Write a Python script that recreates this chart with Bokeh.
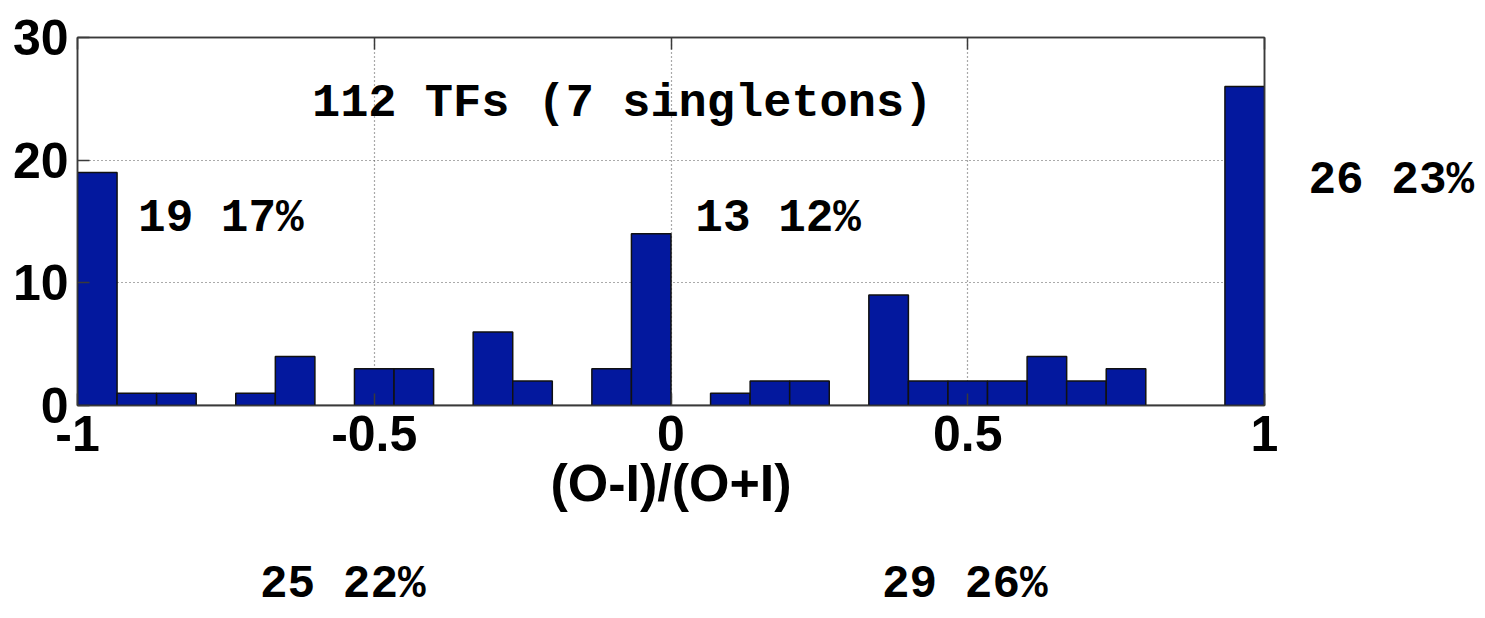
import numpy as np
from bokeh.plotting import figure
from bokeh.models import (Range1d, FixedTicker, LinearAxis, Label, CustomJSTickFormatter,
                          ColumnDataSource)
from bokeh.embed import file_html
from bokeh.resources import INLINE

# ---- data ----
counts = [19, 1, 1, 0, 1, 4, 0, 3, 3, 0, 6, 2, 0, 3, 14,
          0, 1, 2, 2, 0, 9, 2, 2, 2, 4, 2, 3, 0, 0, 26]
x_min, x_max = -1.0, 1.0
x_ticks = [-1, -0.5, 0, 0.5, 1]
y_ticks = [0, 10, 20, 30]
x_label = "(O-I)/(O+I)"
title_text = "112 TFs (7 singletons)"
title_x, title_y = -0.605, 24.6
# texts inside the plot area
inner_texts = ["19 17%", "13 12%"]
inner_x = [-0.898, 0.041]
inner_y = [15.2, 15.2]
# text right of the plot (at a y value)
right_texts = ["26 23%"]
right_y = [18.3]
# texts below the x label (centred at x values)
below_texts = ["25 22%", "29 26%"]
below_x = [-0.553, 0.495]

n = len(counts)
edges = np.linspace(x_min, x_max, n + 1)
src = ColumnDataSource(dict(left=edges[:-1], right=edges[1:],
                            top=counts, bottom=[0] * n))

SANS = "Liberation Sans"
MONO = "Liberation Mono"
BAR = "#03189E"
AX = "#3a3a3a"

W, H = 1477, 618
p = figure(width=W, height=H, output_backend="svg", toolbar_location=None,
           x_range=Range1d(x_min, x_max), y_range=Range1d(0, 30),
           min_border_left=77, min_border_top=37, min_border_right=W - 1268,
           min_border_bottom=H - 405)
p.background_fill_color = "white"
p.border_fill_color = "white"
p.outline_line_color = AX
p.outline_line_width = 1.5

p.quad(left="left", right="right", top="top", bottom="bottom", source=src,
       fill_color=BAR, line_color="#111111", line_width=1.5)

for ax in (p.xaxis[0], p.yaxis[0]):
    ax.axis_line_color = AX
    ax.axis_line_width = 1.5
    ax.major_tick_line_color = AX
    ax.major_tick_line_width = 1.5
    ax.major_tick_in = 12
    ax.major_tick_out = 0
    ax.minor_tick_line_color = None
    ax.major_label_text_font = SANS
    ax.major_label_text_font_style = "bold"
    ax.major_label_text_font_size = "50px"
    ax.major_label_text_color = "black"

p.xaxis[0].ticker = FixedTicker(ticks=x_ticks)
p.xaxis[0].formatter = CustomJSTickFormatter(code="return tick.toString();")
p.xaxis[0].major_label_standoff = 10
p.xaxis[0].axis_label = x_label
p.xaxis[0].axis_label_text_font = SANS
p.xaxis[0].axis_label_text_font_style = "bold"
p.xaxis[0].axis_label_text_font_size = "52px"
p.xaxis[0].axis_label_text_color = "black"
p.xaxis[0].axis_label_standoff = 0

p.yaxis[0].ticker = FixedTicker(ticks=y_ticks)
p.yaxis[0].major_label_standoff = 9

# mirrored tick marks on top (no labels)
blank = CustomJSTickFormatter(code="return '';")
top_ax = LinearAxis(ticker=FixedTicker(ticks=x_ticks), formatter=blank,
                    axis_line_color=AX, axis_line_width=1.5, major_tick_line_color=AX,
                    major_tick_line_width=1.5, major_tick_in=12, major_tick_out=0,
                    minor_tick_line_color=None, minor_tick_out=0, major_label_standoff=0)
p.add_layout(top_ax, "above")

# group annotations outside the plot area, drawn as axis labels
right_lab = LinearAxis(ticker=FixedTicker(ticks=right_y),
                       formatter=CustomJSTickFormatter(args=dict(labels=right_texts),
                                                       code="return labels[index];"),
                       axis_line_color=AX, axis_line_width=1.5,
                       major_tick_line_color=None, major_tick_in=0, major_tick_out=0,
                       minor_tick_line_color=None, minor_tick_in=0, minor_tick_out=0,
                       major_label_standoff=44,
                       major_label_text_font=MONO, major_label_text_font_style="bold",
                       major_label_text_font_size="46px", major_label_text_color="black")
p.add_layout(right_lab, "right")
below_lab = LinearAxis(ticker=FixedTicker(ticks=below_x),
                       formatter=CustomJSTickFormatter(args=dict(labels=below_texts),
                                                       code="return labels[index];"),
                       axis_line_color=None, major_tick_line_color=None,
                       major_tick_in=0, major_tick_out=0,
                       minor_tick_line_color=None, minor_tick_in=0, minor_tick_out=0,
                       major_label_standoff=44,
                       major_label_text_font=MONO, major_label_text_font_style="bold",
                       major_label_text_font_size="46px", major_label_text_color="black")
p.add_layout(below_lab, "below")

p.xgrid.ticker = FixedTicker(ticks=x_ticks)
p.ygrid.ticker = FixedTicker(ticks=y_ticks)
for g in (p.xgrid[0], p.ygrid[0]):
    g.grid_line_color = "#555555"
    g.grid_line_dash = "1 3"
    g.grid_line_width = 1.2

p.add_layout(Label(x=title_x, y=title_y, text=title_text, text_font=MONO,
                   text_font_style="bold", text_font_size="47px",
                   text_baseline="middle", text_align="left", text_color="black"))
for t, gx, gy in zip(inner_texts, inner_x, inner_y):
    p.add_layout(Label(x=gx, y=gy, text=t, text_font=MONO, text_font_style="bold",
                       text_font_size="46px", text_baseline="middle",
                       text_align="left", text_color="black"))

open("out.html", "w").write(file_html(p, INLINE))
